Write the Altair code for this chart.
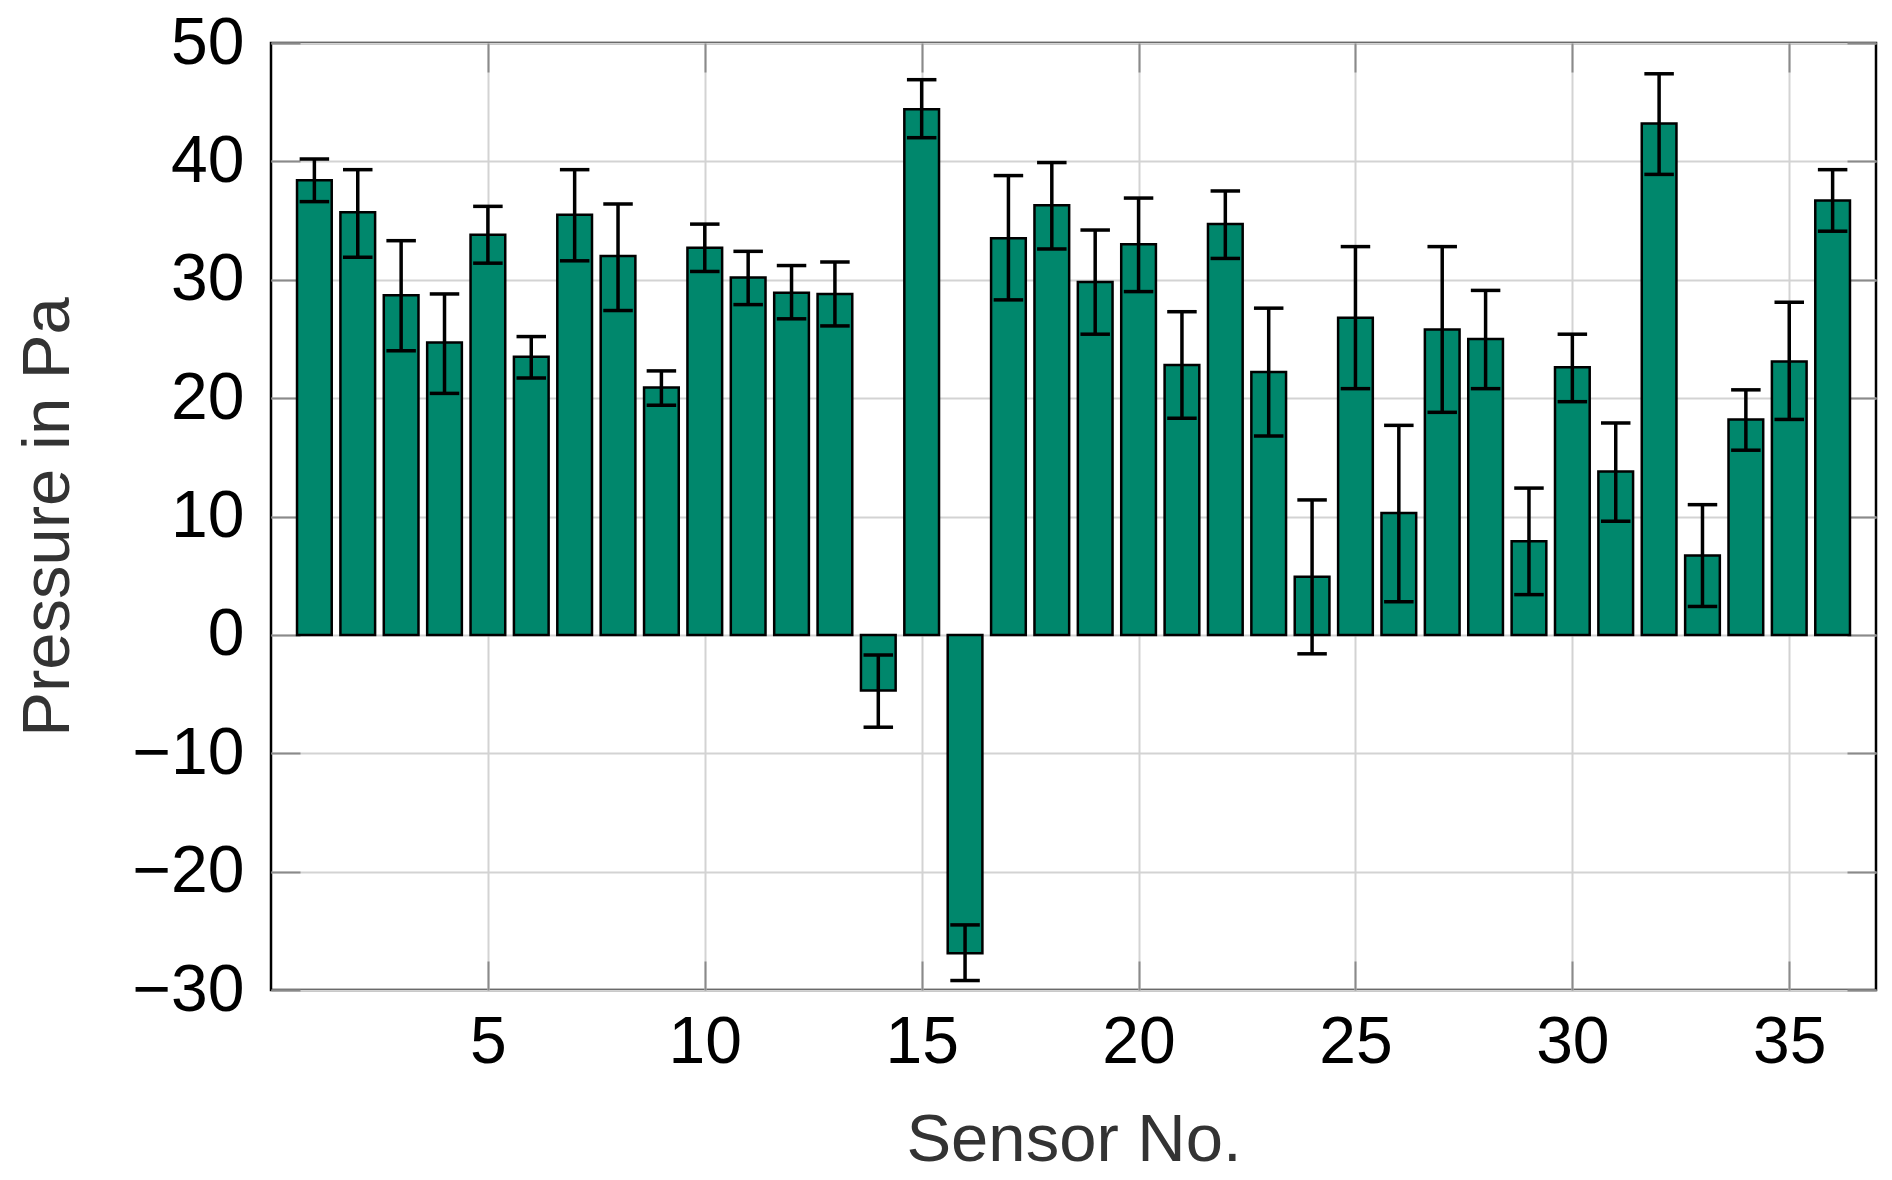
import altair as alt
import pandas as pd

sensors = list(range(1, 37))
pressure = [38.4, 35.7, 28.7, 24.7, 33.8, 23.5, 35.5, 32.0, 20.9, 32.7, 30.2, 28.9,
            28.8, -4.7, 44.4, -26.9, 33.5, 36.3, 29.8, 33.0, 22.8, 34.7, 22.2, 4.9,
            26.8, 10.3, 25.8, 25.0, 7.9, 22.6, 13.8, 43.2, 6.7, 18.2, 23.1, 36.7]
err_high = [40.2, 39.3, 33.3, 28.8, 36.2, 25.2, 39.3, 36.4, 22.3, 34.7, 32.4, 31.2,
            31.5, -1.7, 46.9, -24.5, 38.8, 39.9, 34.2, 36.9, 27.3, 37.5, 27.6, 11.4,
            32.8, 17.7, 32.8, 29.1, 12.4, 25.4, 17.9, 47.4, 11.0, 20.7, 28.1, 39.3]
err_low = [36.6, 31.9, 24.0, 20.4, 31.4, 21.7, 31.6, 27.4, 19.4, 30.7, 27.9, 26.7,
           26.1, -7.8, 42.0, -29.2, 28.3, 32.6, 25.4, 29.0, 18.3, 31.8, 16.8, -1.6,
           20.8, 2.8, 18.8, 20.8, 3.4, 19.7, 9.6, 38.9, 2.4, 15.6, 18.2, 34.1]
x_ticks = [5, 10, 15, 20, 25, 30, 35]
y_ticks = [-30, -20, -10, 0, 10, 20, 30, 40, 50]

df = pd.DataFrame({"sensor": sensors, "value": pressure, "high": err_high, "low": err_low})

FONT = "Liberation Sans"
BAR_COLOR = "#00876c"
TICK_LEN = 29

xs = alt.Scale(domain=[0, 37], nice=False, zero=False)
ys = alt.Scale(domain=[-30, 50], nice=False, zero=False)

base = alt.Chart(df).transform_calculate(
    b0="datum.sensor - 0.4", b1="datum.sensor + 0.4",
    c0="datum.sensor - 0.34", c1="datum.sensor + 0.34",
)

main_x = alt.Axis(values=x_ticks, title="Sensor No.", grid=True, ticks=False, domain=False,
                  labelFontSize=66, titleFontSize=67, labelColor="black", titleColor="#333333",
                  labelPadding=20, titlePadding=32, labelFont=FONT, titleFont=FONT,
                  titleFontWeight="normal", gridColor="#d3d3d3", gridWidth=2)
main_y = alt.Axis(values=y_ticks, title="Pressure in Pa", grid=True, ticks=False, domain=False,
                  labelFontSize=66, titleFontSize=67, labelColor="black", titleColor="#333333",
                  labelPadding=27, titlePadding=50, labelFont=FONT, titleFont=FONT,
                  titleFontWeight="normal", gridColor="#d3d3d3", gridWidth=2)


def inner(orient, vals):
    return alt.Axis(orient=orient, values=vals, offset=-TICK_LEN, tickSize=TICK_LEN,
                    labels=False, domain=False, grid=False, title=None,
                    tickColor="#8a8a8a", tickWidth=2)


bars = base.mark_bar(fill=BAR_COLOR, stroke="black", strokeWidth=2.5).encode(
    x=alt.X("b0:Q", scale=xs, axis=main_x),
    x2="b1:Q",
    y=alt.Y("value:Q", scale=ys, axis=main_y),
    y2=alt.datum(0),
)

whisk = base.mark_rule(color="black", strokeWidth=3.5).encode(
    x=alt.X("sensor:Q", scale=xs, axis=inner("bottom", x_ticks)),
    y=alt.Y("low:Q", scale=ys, axis=inner("left", y_ticks)),
    y2="high:Q",
)

cap_hi = base.mark_rule(color="black", strokeWidth=3.5).encode(
    x=alt.X("c0:Q", scale=xs, axis=inner("top", x_ticks)),
    x2="c1:Q",
    y=alt.Y("high:Q", scale=ys, axis=inner("right", y_ticks)),
)

cap_lo = base.mark_rule(color="black", strokeWidth=3.5).encode(
    x=alt.X("c0:Q", scale=xs, axis=None),
    x2="c1:Q",
    y=alt.Y("low:Q", scale=ys, axis=None),
)

chart = alt.layer(bars, whisk, cap_hi, cap_lo).resolve_axis(
    x="independent", y="independent"
).properties(
    width=1605, height=947,
    autosize=alt.AutoSizeParams(type="none"),
    padding={"left": 263, "top": 35, "right": 5, "bottom": 185},
).configure_view(
    stroke="black", strokeWidth=2.5
)

chart.save("out.html", embed_options={"renderer": "svg", "actions": False})
